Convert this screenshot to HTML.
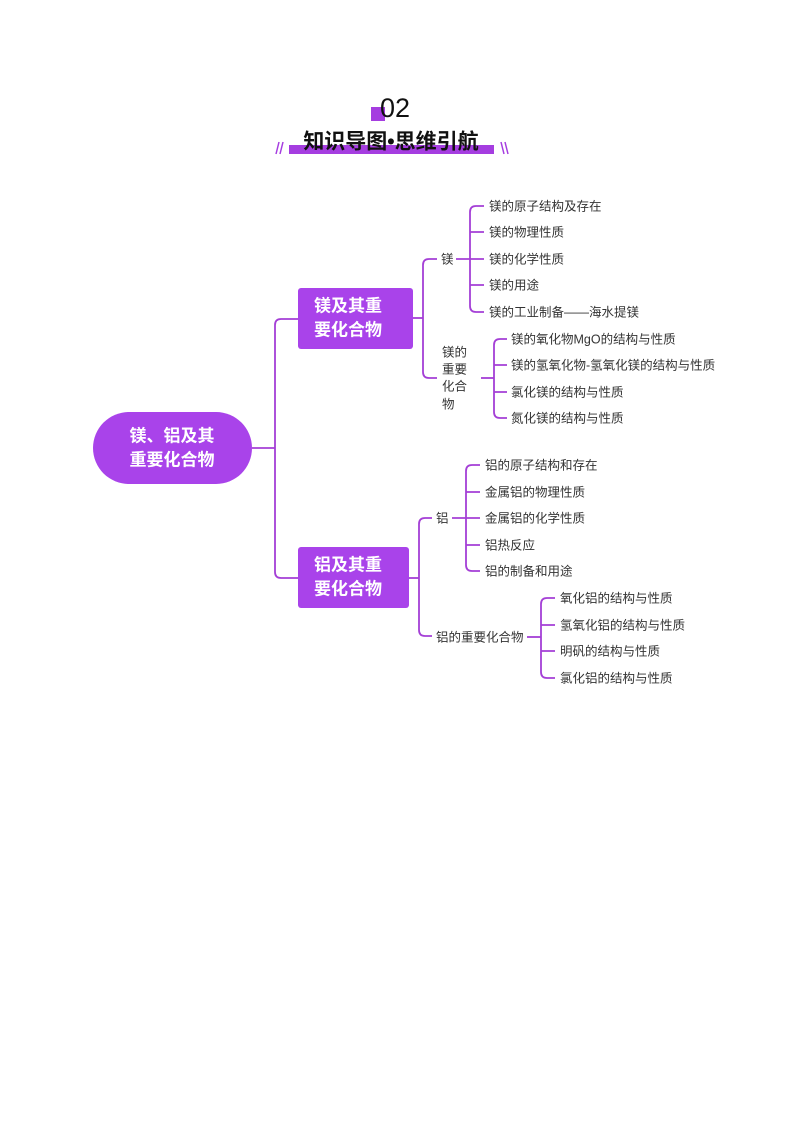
<!DOCTYPE html>
<html><head><meta charset="utf-8"><style>
html,body{margin:0;padding:0;background:#fff;}
svg{display:block;}
text{font-family:"Liberation Sans","Noto Sans CJK SC",sans-serif;}
.t{font-size:12.5px;fill:#333;dominant-baseline:middle;}
.w{font-size:17px;font-weight:bold;fill:#fff;text-anchor:middle;dominant-baseline:middle;}
.l{fill:none;stroke:#a43fd6;stroke-width:1.8;}
</style></head><body>
<svg width="794" height="1123" viewBox="0 0 794 1123">
<!-- header -->
<rect x="371" y="107" width="14" height="14" fill="#a53de0"/>
<text x="395" y="110" font-size="27" font-weight="300" fill="#111" text-anchor="middle" dominant-baseline="middle">02</text>
<rect x="289" y="145" width="205" height="9" fill="#a53de0"/>
<text x="391" y="143" font-size="21" font-weight="bold" fill="#111" text-anchor="middle" dominant-baseline="middle">知识导图•思维引航</text>
<g stroke="#a53de0" stroke-width="1.5">
<line x1="279" y1="142" x2="276" y2="154"/><line x1="283" y1="142" x2="280" y2="154"/>
<line x1="501" y1="142" x2="504" y2="154"/><line x1="505" y1="142" x2="508" y2="154"/>
</g>
<!-- central -->
<rect x="93" y="412" width="159" height="72" rx="36" fill="#a943ea"/>
<text class="w" x="172" y="437">镁、铝及其</text>
<text class="w" x="172" y="461">重要化合物</text>
<path class="l" d="M252 448 H275"/>
<path class="l" d="M298 319 H281 Q275 319 275 325 V572 Q275 578 281 578 H298"/>
<!-- node1 -->
<rect x="298" y="288" width="115" height="61" rx="3" fill="#a943ea"/>
<text class="w" x="348" y="307">镁及其重</text>
<text class="w" x="348" y="331">要化合物</text>
<path class="l" d="M413 318 H423"/>
<path class="l" d="M437 259 H429 Q423 259 423 265 V372 Q423 378 429 378 H437"/>
<g transform="translate(0,1)">
<text class="t" x="441" y="259">镁</text>
<text class="t" x="489" y="206">镁的原子结构及存在</text>
<text class="t" x="489" y="232">镁的物理性质</text>
<text class="t" x="489" y="259">镁的化学性质</text>
<text class="t" x="489" y="285">镁的用途</text>
<text class="t" x="489" y="312">镁的工业制备——海水提镁</text>
<text class="t" x="442" y="352">镁的</text>
<text class="t" x="442" y="369">重要</text>
<text class="t" x="442" y="386">化合</text>
<text class="t" x="442" y="404">物</text>
<text class="t" x="511" y="339">镁的氧化物MgO的结构与性质</text>
<text class="t" x="511" y="365">镁的氢氧化物-氢氧化镁的结构与性质</text>
<text class="t" x="511" y="392">氯化镁的结构与性质</text>
<text class="t" x="511" y="418">氮化镁的结构与性质</text>
<text class="t" x="436" y="518">铝</text>
<text class="t" x="485" y="465">铝的原子结构和存在</text>
<text class="t" x="485" y="492">金属铝的物理性质</text>
<text class="t" x="485" y="518">金属铝的化学性质</text>
<text class="t" x="485" y="545">铝热反应</text>
<text class="t" x="485" y="571">铝的制备和用途</text>
<text class="t" x="436" y="637">铝的重要化合物</text>
<text class="t" x="560" y="598">氧化铝的结构与性质</text>
<text class="t" x="560" y="625">氢氧化铝的结构与性质</text>
<text class="t" x="560" y="651">明矾的结构与性质</text>
<text class="t" x="560" y="678">氯化铝的结构与性质</text>
</g>
<path class="l" d="M456 259 H484"/>
<path class="l" d="M484 206 H476 Q470 206 470 212 V306 Q470 312 476 312 H484 M470 232 H484 M470 285 H484"/>
<path class="l" d="M481 378 H494"/>
<path class="l" d="M507 339 H500 Q494 339 494 345 V412 Q494 418 500 418 H507 M494 365 H507 M494 392 H507"/>
<!-- node2 -->
<rect x="298" y="547" width="111" height="61" rx="3" fill="#a943ea"/>
<text class="w" x="348" y="566">铝及其重</text>
<text class="w" x="348" y="590">要化合物</text>
<path class="l" d="M409 578 H419"/>
<path class="l" d="M432 518 H425 Q419 518 419 524 V630 Q419 636 425 636 H432"/>
<path class="l" d="M452 518 H480"/>
<path class="l" d="M480 465 H472 Q466 465 466 471 V565 Q466 571 472 571 H480 M466 492 H480 M466 545 H480"/>
<path class="l" d="M527 637 H541"/>
<path class="l" d="M555 598 H547 Q541 598 541 604 V672 Q541 678 547 678 H555 M541 625 H555 M541 651 H555"/>
</svg>
</body></html>
